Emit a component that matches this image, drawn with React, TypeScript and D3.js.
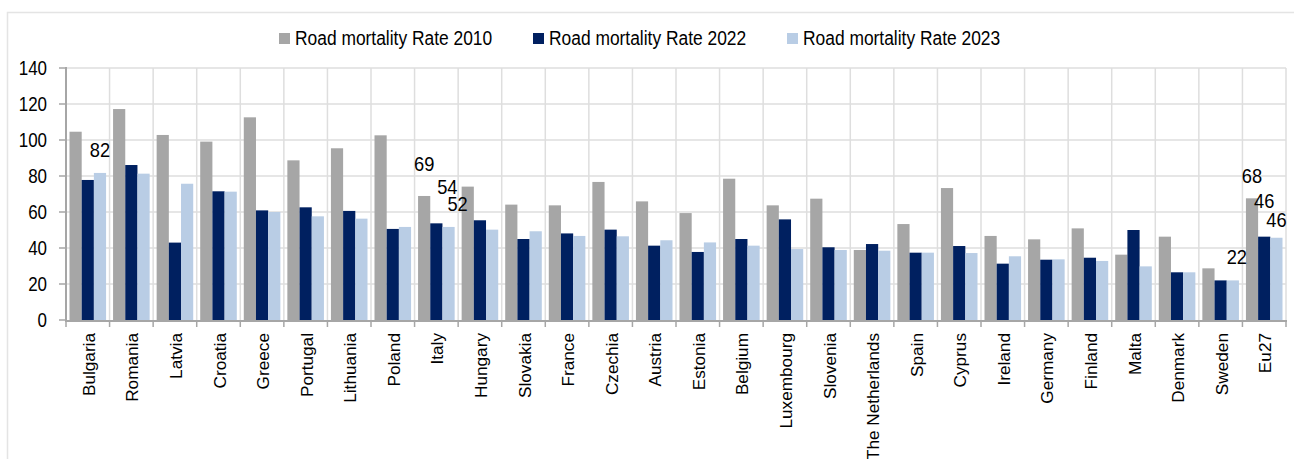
import React from "react";
import * as d3 from "d3";

const countries = [
  "Bulgaria", "Romania", "Latvia", "Croatia", "Greece", "Portugal", "Lithuania", "Poland",
  "Italy", "Hungary", "Slovakia", "France", "Czechia", "Austria", "Estonia", "Belgium",
  "Luxembourg", "Slovenia", "The Netherlands", "Spain", "Cyprus", "Ireland", "Germany",
  "Finland", "Malta", "Denmark", "Sweden", "Eu27",
];
const rate2010 = [104.6, 117.2, 102.8, 99.1, 112.6, 88.7, 95.4, 102.6, 68.9, 74.1, 64.1, 63.7, 76.7, 65.9, 59.4, 78.5, 63.7, 67.4, 38.9, 53.3, 73.3, 46.7, 44.8, 50.9, 36.3, 46.3, 28.7, 67.6];
const rate2022 = [77.8, 86.1, 43.0, 71.5, 60.9, 62.6, 60.6, 50.6, 53.7, 55.4, 45.0, 48.1, 50.2, 41.3, 37.8, 45.0, 55.9, 40.4, 42.2, 37.4, 41.1, 31.3, 33.5, 34.6, 50.0, 26.5, 22.0, 46.3];
const rate2023 = [81.7, 81.3, 75.7, 71.3, 60.0, 57.6, 56.3, 51.7, 51.7, 50.2, 49.3, 46.7, 46.5, 44.3, 43.1, 41.3, 39.4, 38.9, 38.5, 37.4, 37.2, 35.4, 33.7, 32.8, 29.8, 26.5, 22.0, 45.7];
const seriesNames = ["Road mortality Rate 2010", "Road mortality Rate 2022", "Road mortality Rate 2023"];
const yTicks = [0, 20, 40, 60, 80, 100, 120, 140];

// data labels shown in the chart (country, series index) with manual placement offsets
const labelCountries = ["Bulgaria", "Italy", "Italy", "Italy", "Sweden", "Eu27", "Eu27", "Eu27"];
const labelSeries = [2, 0, 1, 2, 2, 0, 1, 2];
const labelDx = [0, 0, 11, 9, 4, 0, 0, 0];
const labelDy = [-23, -32, -37, -23, -24, -23, -36, -18];

const colors = ["#a6a6a6", "#002060", "#b9cde5"];
const FONT = "'Liberation Sans', Arial, sans-serif";
const SX = 0.87;

export default function App() {
  const W = 1294, H = 459;
  const left = 66, right = 1286, top = 68, bottom = 320;
  const series = [rate2010, rate2022, rate2023];

  const x = d3.scaleBand<string>().domain(countries).range([left, right]).padding(0);
  const bw = x.bandwidth();
  const x1 = d3.scaleBand<number>().domain([0, 1, 2]).range([3.5, bw - 3.5]).padding(0);
  const y = d3.scaleLinear().domain([0, 140]).range([bottom, top]);

  const boundaries = d3.range(countries.length + 1).map((i) => left + i * bw);

  return (
    <svg width={W} height={H} style={{ position: "absolute", left: 0, top: 0, display: "block", background: "#fff" }}>
      <rect x={7.5} y={12.5} width={1400} height={600} fill="none" stroke="#e4e4e4" strokeWidth={1.5} />

      {/* legend */}
      {seriesNames.map((s, i) => {
        const mx = 279 + i * 254;
        return (
          <g key={s}>
            <rect x={mx} y={33} width={11} height={11} fill={colors[i]} />
            <text
              transform={`translate(${mx + 16},${38.5}) scale(${SX},1)`}
              fontFamily={FONT}
              fontSize={20}
              dominantBaseline="central"
              fill="#000"
            >
              {s}
            </text>
          </g>
        );
      })}

      {/* gridlines */}
      {yTicks.filter((t) => t > 0).map((t) => (
        <line key={"h" + t} x1={left} x2={right} y1={y(t)} y2={y(t)} stroke="#dedede" strokeWidth={1.5} />
      ))}
      {boundaries.slice(1).map((bx, i) => (
        <line key={"v" + i} x1={bx} x2={bx} y1={top} y2={bottom} stroke="#dedede" strokeWidth={1.5} />
      ))}

      {/* bars */}
      {countries.map((c, ci) => (
        <g key={c}>
          {series.map((vals, si) => (
            <rect
              key={si}
              x={(x(c) as number) + (x1(si) as number)}
              y={y(vals[ci])}
              width={x1.bandwidth()}
              height={y(0) - y(vals[ci])}
              fill={colors[si]}
            />
          ))}
        </g>
      ))}

      {/* axes */}
      <line x1={left} x2={left} y1={top - 1} y2={bottom + 1} stroke="#a6a6a6" strokeWidth={2} />
      <line x1={left - 1} x2={right + 1} y1={bottom + 1} y2={bottom + 1} stroke="#a6a6a6" strokeWidth={2} />
      {yTicks.map((t) => (
        <g key={"yt" + t}>
          <line x1={59} x2={left} y1={y(t)} y2={y(t)} stroke="#a6a6a6" strokeWidth={1.5} />
          <text
            transform={`translate(47,${y(t)}) scale(${SX},1)`}
            textAnchor="end"
            dominantBaseline="central"
            fontFamily={FONT}
            fontSize={19.5}
            fill="#000"
          >
            {t}
          </text>
        </g>
      ))}
      {boundaries.map((bx, i) => (
        <line key={"xt" + i} x1={bx} x2={bx} y1={bottom} y2={bottom + 7} stroke="#a6a6a6" strokeWidth={1.5} />
      ))}
      {countries.map((c) => (
        <text
          key={"xl" + c}
          transform={`translate(${(x(c) as number) + bw / 2 + 1},333) rotate(-90)`}
          textAnchor="end"
          dominantBaseline="central"
          fontFamily={FONT}
          fontSize={17.2}
          fill="#000"
        >
          {c}
        </text>
      ))}

      {/* data labels */}
      {labelCountries.map((c, i) => {
        const ci = countries.indexOf(c);
        const si = labelSeries[i];
        const v = series[si][ci];
        const cx = (x(c) as number) + (x1(si) as number) + x1.bandwidth() / 2 + labelDx[i];
        const cy = y(v) + labelDy[i];
        return (
          <text
            key={"dl" + i}
            transform={`translate(${cx},${cy}) scale(${SX},1)`}
            textAnchor="middle"
            dominantBaseline="central"
            fontFamily={FONT}
            fontSize={21}
            fill="#000"
          >
            {Math.round(v)}
          </text>
        );
      })}
    </svg>
  );
}
